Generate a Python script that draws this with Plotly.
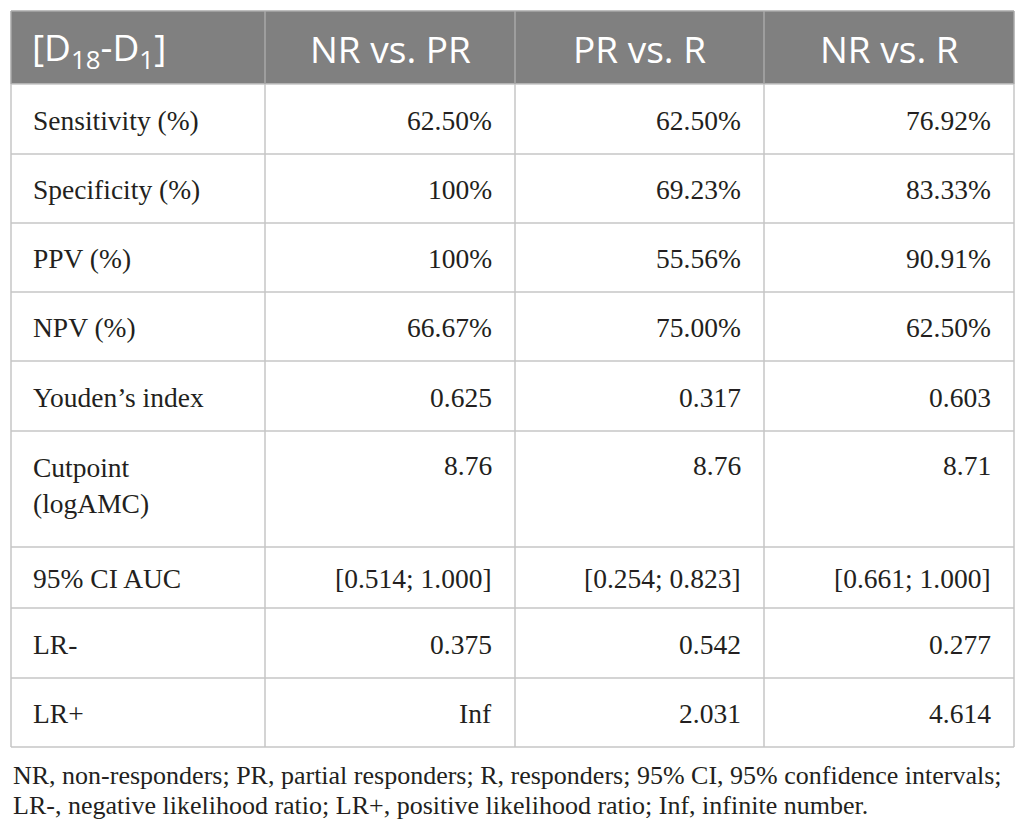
import plotly.graph_objects as go

# column headers and row labels
header = ["[D<sub>18</sub>-D<sub>1</sub>]", "NR vs. PR", "PR vs. R", "NR vs. R"]
metrics = [
    "Sensitivity (%)", "Specificity (%)", "PPV (%)", "NPV (%)",
    "Youden\u2019s index", "Cutpoint<br>(logAMC)", "95% CI AUC", "LR-", "LR+",
]

# one list per comparison
nr_vs_pr = ["62.50%", "100%", "100%", "66.67%", "0.625", "8.76",
            "[0.514; 1.000]", "0.375", "Inf"]
pr_vs_r = ["62.50%", "69.23%", "55.56%", "75.00%", "0.317", "8.76",
           "[0.254; 0.823]", "0.542", "2.031"]
nr_vs_r = ["76.92%", "83.33%", "90.91%", "62.50%", "0.603", "8.71",
           "[0.661; 1.000]", "0.277", "4.614"]

footnote = [
    "NR, non-responders; PR, partial responders; R, responders; 95% CI, "
    "95% confidence intervals;",
    "LR-, negative likelihood ratio; LR+, positive likelihood ratio; "
    "Inf, infinite number.",
]

# ---- layout of the grid, in page pixels --------------------------------------
W, H = 1026, 835
OFF = 8  # the html body has an 8px margin, so the figure starts at (8, 8)
col_edges = [11, 265, 515, 764, 1014]
row_edges = [11, 84, 154, 223, 292, 361, 431, 547, 608, 678, 747]
pad_left = 20
pad_right = 21
header_fill = "#808080"
header_line = "#a9a9a9"
body_line = "#c6c6c6"
text_col = "#231f20"
serif = "Liberation Serif"

columns = [metrics, nr_vs_pr, pr_vs_r, nr_vs_r]

shapes = []
annotations = []

# header band
shapes.append(dict(type="rect", x0=col_edges[0], x1=col_edges[-1],
                   y0=row_edges[0], y1=row_edges[1], fillcolor=header_fill,
                   line=dict(width=0), layer="below"))

# horizontal rules
for i, y in enumerate(row_edges):
    shapes.append(dict(type="line", x0=col_edges[0], x1=col_edges[-1], y0=y, y1=y,
                       line=dict(color=header_line if i == 0 else body_line, width=1.5)))

# vertical rules (lighter over the grey header)
for x in col_edges:
    shapes.append(dict(type="line", x0=x, x1=x, y0=row_edges[0], y1=row_edges[1],
                       line=dict(color=header_line, width=1.5)))
    shapes.append(dict(type="line", x0=x, x1=x, y0=row_edges[1], y1=row_edges[-1],
                       line=dict(color=body_line, width=1.5)))

# header text
hy = (row_edges[0] + row_edges[1]) / 2 + 1
for c, label in enumerate(header):
    if c == 0:
        x, anchor = col_edges[0] + pad_left - 1, "left"
    else:
        x, anchor = (col_edges[c] + col_edges[c + 1]) / 2, "center"
    annotations.append(dict(x=x, y=hy, text=label, xanchor=anchor, yanchor="middle",
                            showarrow=False,
                            font=dict(family="Open Sans", size=37, color="white")))

# body text
for r in range(len(metrics)):
    top, bot = row_edges[r + 1], row_edges[r + 2]
    yc = (top + bot) / 2 + 1
    two_line = "<br>" in metrics[r]
    for c, col in enumerate(columns):
        if c == 0:
            x, anchor = col_edges[0] + pad_left, "left"
            y = yc - 5 if two_line else yc
        else:
            x, anchor = col_edges[c + 1] - pad_right, "right"
            y = top + 34 if two_line else yc
        annotations.append(dict(x=x, y=y, text=col[r], xanchor=anchor,
                                yanchor="middle", align="left", showarrow=False,
                                font=dict(family=serif, size=27.5, color=text_col)))

# footnote
for k, line in enumerate(footnote):
    annotations.append(dict(x=col_edges[0], y=775 + 30 * k, text=line, xanchor="left",
                            yanchor="middle", showarrow=False,
                            font=dict(family=serif, size=26, color=text_col)))

fig = go.Figure()
fig.update_layout(
    width=W - OFF, height=H - OFF, margin=dict(l=0, r=0, t=0, b=0),
    paper_bgcolor="white", plot_bgcolor="white",
    xaxis=dict(range=[OFF, W], visible=False, fixedrange=True),
    yaxis=dict(range=[H, OFF], visible=False, fixedrange=True),
    shapes=shapes, annotations=annotations, showlegend=False,
)
fig.write_html("out.html")
